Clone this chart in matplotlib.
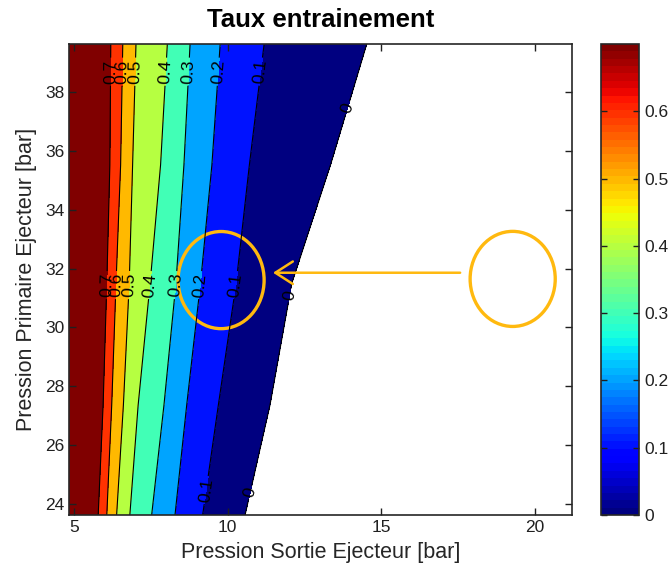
import numpy as np
import matplotlib
matplotlib.use("Agg")
import matplotlib.pyplot as plt
from matplotlib.patches import Ellipse
from matplotlib.colors import Normalize

plt.rcParams["font.family"] = ["Liberation Sans", "DejaVu Sans"]

# contour levels (left -> right) and where each line crosses a given row
levels = [0.7, 0.6, 0.5, 0.4, 0.3, 0.2, 0.1, 0.0]
row_y = [23.63, 27.36, 31.5, 35.52, 39.63]
x_row_2363 = [5.79, 6.07, 6.39, 6.82, 7.53, 8.29, 9.19, 10.57]
x_row_2736 = [5.95, 6.23, 6.61, 7.09, 7.93, 8.67, 9.70, 11.38]
x_row_3150 = [6.07, 6.37, 6.80, 7.48, 8.32, 9.12, 10.28, 12.09]
x_row_3552 = [6.17, 6.52, 6.91, 7.82, 8.58, 9.49, 10.71, 13.35]
x_row_3963 = [6.20, 6.59, 7.02, 8.04, 8.78, 9.76, 11.19, 14.53]

x_min, x_max = 4.84, 21.2
z_left, z_right = 0.8, -0.3

x_ticks = [5, 10, 15, 20]
y_ticks = [24, 26, 28, 30, 32, 34, 36, 38]
cbar_ticks = [0, 0.1, 0.2, 0.3, 0.4, 0.5, 0.6]

# curvilinear grid: each column follows one contour crossing
rows = [x_row_2363, x_row_2736, x_row_3150, x_row_3552, x_row_3963]
X = np.array([[x_min] + r + [x_max] for r in rows])
Y = np.repeat(np.array(row_y)[:, None], X.shape[1], axis=1)
Z = np.tile(np.array([z_left] + levels + [z_right]), (len(rows), 1))

lev = sorted(levels)
cmap = plt.get_cmap("jet", 64)
norm = Normalize(vmin=0, vmax=0.7)
fill_colors = [cmap(norm(l) * 0.9999) for l in lev]

fig = plt.figure(figsize=(6.68, 5.7), dpi=100)
ax = fig.add_axes([0.1033, 0.0965, 0.7525, 0.8263])
cax = fig.add_axes([0.8997, 0.0965, 0.0573, 0.8263])

ax.contourf(X, Y, Z, levels=lev + [1.0], colors=fill_colors)
cs = ax.contour(X, Y, Z, levels=lev, colors="k", linewidths=0.8)

label_pos = [
    (6.19, 38.69), (6.57, 38.69), (6.99, 38.69), (7.99, 38.69),
    (8.74, 38.69), (9.70, 38.69), (11.1, 38.69), (14.15, 37.39),
    (6.07, 31.44), (6.37, 31.44), (6.80, 31.44), (7.48, 31.44),
    (8.32, 31.44), (9.12, 31.44), (10.28, 31.44), (12.2, 31.05),
    (9.3, 24.48), (10.67, 24.41),
]
ax.clabel(cs, manual=label_pos, fmt="%g", fontsize=12.5, inline=True,
          inline_spacing=2)

ax.set_xlim(x_min, x_max)
ax.set_ylim(row_y[0], row_y[-1])
ax.set_xticks(x_ticks)
ax.set_yticks(y_ticks)
ax.tick_params(direction="in", top=True, right=True, length=5,
               labelsize=12.5, colors="#202020", width=1)
for s in ax.spines.values():
    s.set_linewidth(1.2)
    s.set_color("#262626")

ax.set_title("Taux entrainement", fontsize=18.5, fontweight="bold", pad=12)
ax.set_xlabel("Pression Sortie Ejecteur [bar]", fontsize=15.5, color="#262626",
              labelpad=5)
ax.set_ylabel("Pression Primaire Ejecteur [bar]", fontsize=15.5, color="#262626",
              labelpad=6)

# annotation: orange ellipses and arrow
orange = "#FFB90F"
ax.add_patch(Ellipse((9.79, 31.61), 2.80, 3.30, fill=False, ec=orange, lw=2.4))
ax.add_patch(Ellipse((19.28, 31.65), 2.77, 3.23, fill=False, ec=orange, lw=2.4))
ax.annotate("", xy=(11.48, 31.86), xytext=(17.57, 31.86),
            arrowprops=dict(arrowstyle="->,head_length=0.7,head_width=0.45",
                            color=orange, lw=1.8, shrinkA=0, shrinkB=0,
                            mutation_scale=18))

sm = plt.cm.ScalarMappable(norm=norm, cmap=cmap)
cb = fig.colorbar(sm, cax=cax, ticks=cbar_ticks)
cb.ax.set_yticklabels(["%g" % t for t in cbar_ticks])
cb.ax.tick_params(direction="in", left=True, right=True, length=4,
                  labelsize=12.5, colors="#202020", width=1)
cb.outline.set_linewidth(1.2)
cb.outline.set_edgecolor("#262626")

fig.savefig("out.png", dpi=100)
